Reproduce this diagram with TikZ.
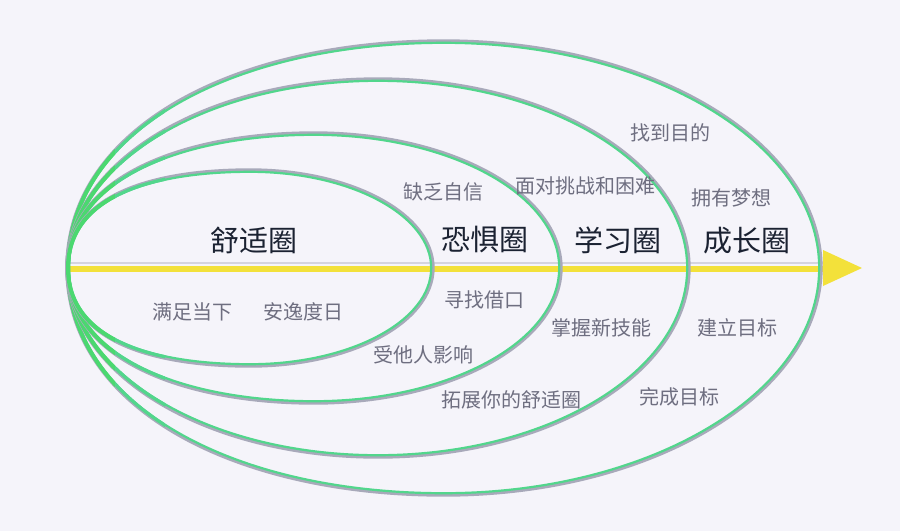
\documentclass[tikz,border=0pt]{standalone}
\usepackage{fontspec}
\newfontfamily\cjk{Noto Sans CJK SC}
\definecolor{bg}{HTML}{F5F4FA}
\definecolor{ringgreen}{HTML}{52D68C}
\definecolor{leftgreen}{HTML}{4BD870}
\definecolor{ringgray}{HTML}{A8A9BA}
\definecolor{axisyellow}{HTML}{F3E13A}
\definecolor{axisgray}{HTML}{D4D4DE}
\definecolor{titletext}{HTML}{1B2232}
\definecolor{notetext}{HTML}{6E6E80}
% #1 style, #2 cx, #3 rx, #4 ry, #5 left vertical factor, #6 left horizontal factor, #7 radius delta
\newcommand\ringdraw[7]{%
  \begin{scope}[shift={(#2,268)}, xscale={(#3+(#7))/#3}, yscale={(#4+(#7))/#4}]
    \draw[#1] (-#3,0) .. controls (-#3,{-#5*#4}) and ({-#6*#3},-#4) .. (0,-#4)
      .. controls ({0.5523*#3},-#4) and (#3,{-0.5523*#4}) .. (#3,0)
      .. controls (#3,{0.5523*#4}) and ({0.5523*#3},#4) .. (0,#4)
      .. controls ({-#6*#3},#4) and (-#3,{#5*#4}) .. (-#3,0) -- cycle;
  \end{scope}}
\newcommand\ringshape[5]{%
  \ringdraw{ringgray, line width=3.4pt}{#1}{#2}{#3}{#4}{#5}{1}
  \ringdraw{ringgreen, line width=2.2pt}{#1}{#2}{#3}{#4}{#5}{-0.8}
  \begin{scope}
    \clip (0,0) rectangle (115,531);
    \ringdraw{leftgreen, line width=4pt}{#1}{#2}{#3}{#4}{#5}{0}
  \end{scope}
  \begin{scope}
    \clip (115,0) rectangle (165,531);
    \ringdraw{ringgreen, line width=3.2pt}{#1}{#2}{#3}{#4}{#5}{-0.3}
  \end{scope}}
\begin{document}
\begin{tikzpicture}[x=1pt,y=-1pt,
  title/.style={font=\cjk\fontsize{29}{29}\selectfont, text=titletext, inner sep=0pt},
  note/.style={font=\cjk\fontsize{20}{20}\selectfont, text=notetext, inner sep=0pt}]
\fill[bg] (0,0) rectangle (900,531);
\useasboundingbox (0,0) rectangle (900,531);
% axis
\draw[line width=1.5pt, axisgray] (70,263) -- (823,263);
\draw[line width=6pt, axisyellow] (66,269) -- (825,269);
\fill[axisyellow] (823,250) -- (862,268) -- (823,286) -- cycle;
% rings: cx, rx, ry, left factors
\ringshape{444}{376}{226}{0.62}{0.5523}
\ringshape{378}{310}{188}{0.56}{0.5523}
\ringshape{314}{246}{134}{0.7}{0.5}
\ringshape{250}{182}{97}{0.82}{0.44}
% titles
\node[title] (comfort) at (254,240) {舒适圈};
\node[title] (fear) at (485,240) {恐惧圈};
\node[title] (learn) at (618,240) {学习圈};
\node[title] (grow) at (747,241) {成长圈};
% notes
\node[note] (n1) at (443,192) {缺乏自信};
\node[note] (n2) at (585,186) {面对挑战和困难};
\node[note] (n3) at (670,133) {找到目的};
\node[note] (n4) at (731,198) {拥有梦想};
\node[note] (n5) at (192,312) {满足当下};
\node[note] (n6) at (303,312) {安逸度日};
\node[note] (n7) at (484,300) {寻找借口};
\node[note] (n8) at (423,355) {受他人影响};
\node[note] (n9) at (511,400) {拓展你的舒适圈};
\node[note] (n10) at (601,328) {掌握新技能};
\node[note] (n11) at (737,328) {建立目标};
\node[note] (n12) at (679,397) {完成目标};
\end{tikzpicture}
\end{document}
